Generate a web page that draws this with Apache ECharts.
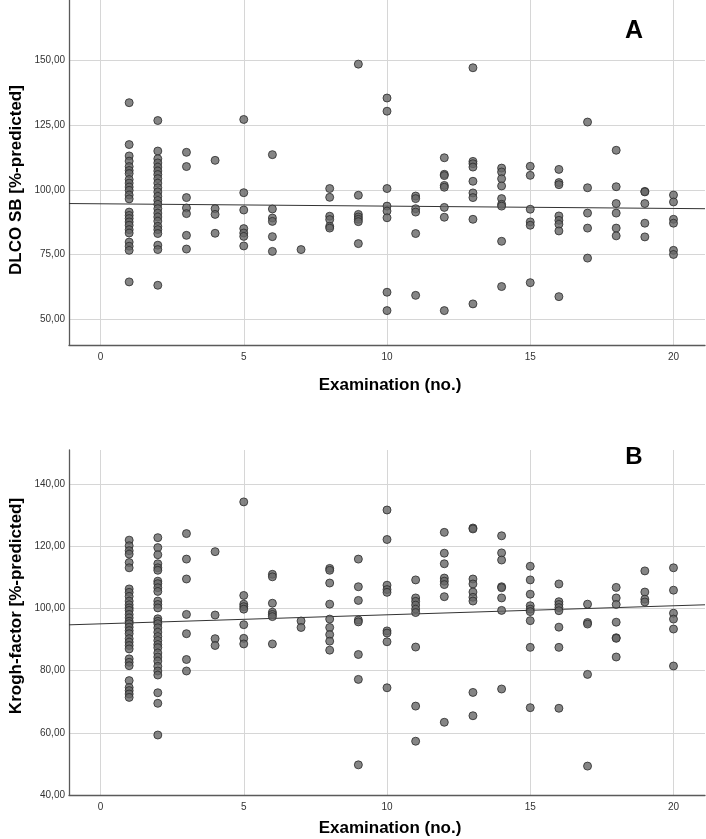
<!DOCTYPE html>
<html>
<head>
<meta charset="utf-8">
<script src="https://cdn.jsdelivr.net/npm/echarts@6/dist/echarts.min.js"></script>
<style>
html,body{margin:0;padding:0;background:#fff;}
#chart{width:706px;height:839px;}
</style>
</head>
<body>
<div id="chart"></div>
<script>
// ---- Data ----
// Panel A: DLCO SB [%-predicted] by examination number
const dlcoByExam = {
  1: [133.7, 117.5, 113.1, 111.1, 109.0, 107.5, 106.3, 104.0, 102.6, 101.1, 99.8, 98.0, 96.5, 91.4, 90.1, 88.9, 87.6, 86.3, 84.6, 83.3, 79.8, 78.2, 76.6, 64.4],
  2: [126.8, 115.0, 112.0, 110.4, 108.8, 107.3, 105.9, 104.3, 102.6, 100.8, 99.2, 97.5, 95.9, 94.4, 92.7, 91.0, 89.5, 87.9, 85.9, 84.6, 83.1, 78.6, 76.9, 63.1],
  3: [114.5, 109.0, 97.0, 93.0, 90.8, 82.4, 77.1],
  4: [111.4, 92.7, 90.5, 83.2],
  5: [127.2, 98.9, 92.2, 85.0, 83.3, 82.0, 78.3],
  6: [113.6, 92.6, 89.1, 87.8, 81.9, 76.2],
  7: [76.9],
  8: [100.5, 97.1, 89.8, 88.5, 85.9, 85.2],
  9: [148.6, 97.9, 90.5, 89.5, 88.6, 87.7, 79.2],
  10: [135.5, 130.4, 100.5, 93.7, 91.8, 89.2, 60.4, 53.3],
  11: [97.6, 96.6, 92.7, 91.4, 83.1, 59.2],
  12: [112.4, 106.0, 105.5, 101.7, 101.0, 93.2, 89.4, 53.3],
  13: [147.2, 111.0, 110.1, 108.8, 103.3, 98.8, 97.0, 88.6, 55.9],
  14: [108.4, 106.9, 104.3, 101.5, 96.6, 94.4, 93.7, 80.1, 62.6],
  15: [109.1, 105.6, 92.5, 87.6, 86.3, 64.1],
  16: [107.9, 102.8, 102.0, 89.9, 88.2, 86.7, 84.1, 58.7],
  17: [126.2, 100.8, 91.0, 85.2, 73.6],
  18: [115.3, 101.2, 94.7, 91.0, 85.2, 82.2],
  19: [99.4, 99.2, 94.7, 87.1, 81.8],
  20: [98.0, 95.3, 88.6, 87.1, 76.6, 75.0]
};
// Panel B: Krogh-factor [%-predicted] by examination number
const kroghByExam = {
  1: [122.0, 120.2, 118.6, 117.5, 114.8, 113.1, 106.3, 105.2, 103.9, 102.4, 101.2, 100.2, 99.4, 98.1, 97.0, 95.9, 95.1, 94.0, 92.9, 91.9, 90.3, 89.2, 88.1, 87.0, 83.8, 82.7, 81.6, 76.8, 74.6, 73.6, 72.5, 71.4],
  2: [122.8, 119.6, 117.3, 114.4, 113.1, 112.3, 108.8, 108.0, 106.7, 105.5, 102.4, 101.3, 100.2, 96.7, 95.9, 95.1, 93.8, 92.4, 91.0, 89.7, 88.4, 87.4, 85.7, 84.4, 83.1, 81.4, 79.9, 78.6, 72.9, 69.5, 59.3],
  3: [124.1, 115.9, 109.5, 98.1, 91.9, 83.6, 79.9],
  4: [118.3, 97.9, 90.3, 88.1],
  5: [134.3, 104.2, 101.4, 100.6, 99.8, 94.8, 90.4, 88.6],
  6: [111.0, 110.2, 101.7, 98.8, 98.1, 97.4, 88.6],
  7: [96.0, 93.9],
  8: [112.9, 112.3, 108.2, 101.4, 96.6, 93.9, 91.6, 89.5, 86.6],
  9: [115.9, 107.0, 102.6, 96.3, 95.7, 85.2, 77.2, 49.7],
  10: [131.7, 122.2, 107.5, 106.1, 105.2, 92.8, 92.1, 89.3, 74.5],
  11: [109.2, 103.4, 102.3, 101.1, 99.8, 98.7, 87.6, 68.6, 57.3],
  12: [124.5, 117.8, 114.4, 109.8, 108.8, 107.7, 103.8, 63.4],
  13: [125.9, 125.6, 109.5, 107.9, 105.3, 103.6, 102.4, 73.0, 65.5],
  14: [123.4, 117.9, 115.6, 107.0, 106.7, 103.4, 99.4, 74.1],
  15: [113.6, 109.2, 104.6, 100.9, 99.8, 99.0, 96.1, 87.5, 68.1],
  16: [107.9, 102.2, 101.3, 100.3, 99.3, 94.0, 87.5, 67.9],
  17: [101.4, 95.5, 95.0, 78.8, 49.3],
  18: [106.8, 103.4, 101.3, 95.6, 90.6, 90.4, 84.4],
  19: [112.1, 105.3, 103.0, 102.1],
  20: [113.1, 105.9, 98.5, 96.6, 93.4, 81.5]
};
// Fit lines (values at the ends of the x range)
const fitA = [[-1.1, 94.7], [21.1, 92.7]];
const fitB = [[-1.1, 94.75], [21.1, 101.2]];
// Tick labels
const xTicks = [0, 5, 10, 15, 20];
const yTicksA = [50, 75, 100, 125, 150];
const yTicksB = [40, 60, 80, 100, 120, 140];

function toPoints(obj) {
  const pts = [];
  Object.keys(obj).forEach(k => obj[k].forEach(v => pts.push([Number(k), v])));
  return pts;
}
const fmt = v => Number(v).toFixed(2).replace('.', ',');

const gridLine = { show: true, lineStyle: { color: '#d6d6d6', width: 1 } };
const axisLineStyle = { show: true, onZero: false, lineStyle: { color: '#5a5a5a', width: 1.3 } };
const tickFont = { fontFamily: 'Liberation Sans, Arial, sans-serif', fontSize: 10, color: '#333' };

function xAxis(gridIndex) {
  return {
    type: 'value', gridIndex, min: -1.1, max: 21.1,
    axisLine: axisLineStyle,
    axisTick: { show: false, customValues: xTicks },
    axisLabel: Object.assign({ customValues: xTicks, margin: 7, formatter: v => String(v) }, tickFont),
    splitLine: gridLine
  };
}
function yAxis(gridIndex, min, max, ticks) {
  return {
    type: 'value', gridIndex, min, max,
    axisLine: axisLineStyle,
    axisTick: { show: false, customValues: ticks },
    axisLabel: Object.assign({ customValues: ticks, margin: 4, formatter: fmt }, tickFont),
    splitLine: gridLine
  };
}
const markerStyle = { color: '#676767', borderColor: '#2a2a2a', borderWidth: 1 };
const titleFont = 'Liberation Sans, Arial, sans-serif';

const option = {
  animation: false,
  backgroundColor: '#fff',
  grid: [
    { left: 69, right: 1, top: 0, height: 345 },
    { left: 69, right: 1, top: 450, height: 345 }
  ],
  xAxis: [xAxis(0), xAxis(1)],
  yAxis: [yAxis(0, 40, 173.4, yTicksA), yAxis(1, 40, 151, yTicksB)],
  series: [
    { type: 'scatter', xAxisIndex: 0, yAxisIndex: 0, data: toPoints(dlcoByExam), symbolSize: 8, itemStyle: markerStyle, z: 3 },
    { type: 'line', xAxisIndex: 0, yAxisIndex: 0, data: fitA, symbol: 'none', lineStyle: { color: '#333', width: 1 }, z: 2 },
    { type: 'scatter', xAxisIndex: 1, yAxisIndex: 1, data: toPoints(kroghByExam), symbolSize: 8, itemStyle: markerStyle, z: 3 },
    { type: 'line', xAxisIndex: 1, yAxisIndex: 1, data: fitB, symbol: 'none', lineStyle: { color: '#333', width: 1 }, z: 2 }
  ],
  graphic: [
    { type: 'text', x: 634, y: 31, style: { text: 'A', font: 'bold 25px ' + titleFont, fill: '#000', align: 'center', verticalAlign: 'middle' } },
    { type: 'text', x: 634, y: 457, style: { text: 'B', font: 'bold 24px ' + titleFont, fill: '#000', align: 'center', verticalAlign: 'middle' } },
    { type: 'text', x: 390, y: 385, style: { text: 'Examination (no.)', font: 'bold 17px ' + titleFont, fill: '#000', align: 'center', verticalAlign: 'middle' } },
    { type: 'text', x: 390, y: 828, style: { text: 'Examination (no.)', font: 'bold 17px ' + titleFont, fill: '#000', align: 'center', verticalAlign: 'middle' } },
    { type: 'text', x: 16, y: 180, rotation: Math.PI / 2, style: { text: 'DLCO SB [%-predicted]', font: 'bold 17px ' + titleFont, fill: '#000', align: 'center', verticalAlign: 'middle' } },
    { type: 'text', x: 16, y: 606, rotation: Math.PI / 2, style: { text: 'Krogh-factor [%-predicted]', font: 'bold 17px ' + titleFont, fill: '#000', align: 'center', verticalAlign: 'middle' } }
  ]
};
const chart = echarts.init(document.getElementById('chart'), null, { renderer: 'canvas' });
chart.setOption(option);
</script>
</body>
</html>
